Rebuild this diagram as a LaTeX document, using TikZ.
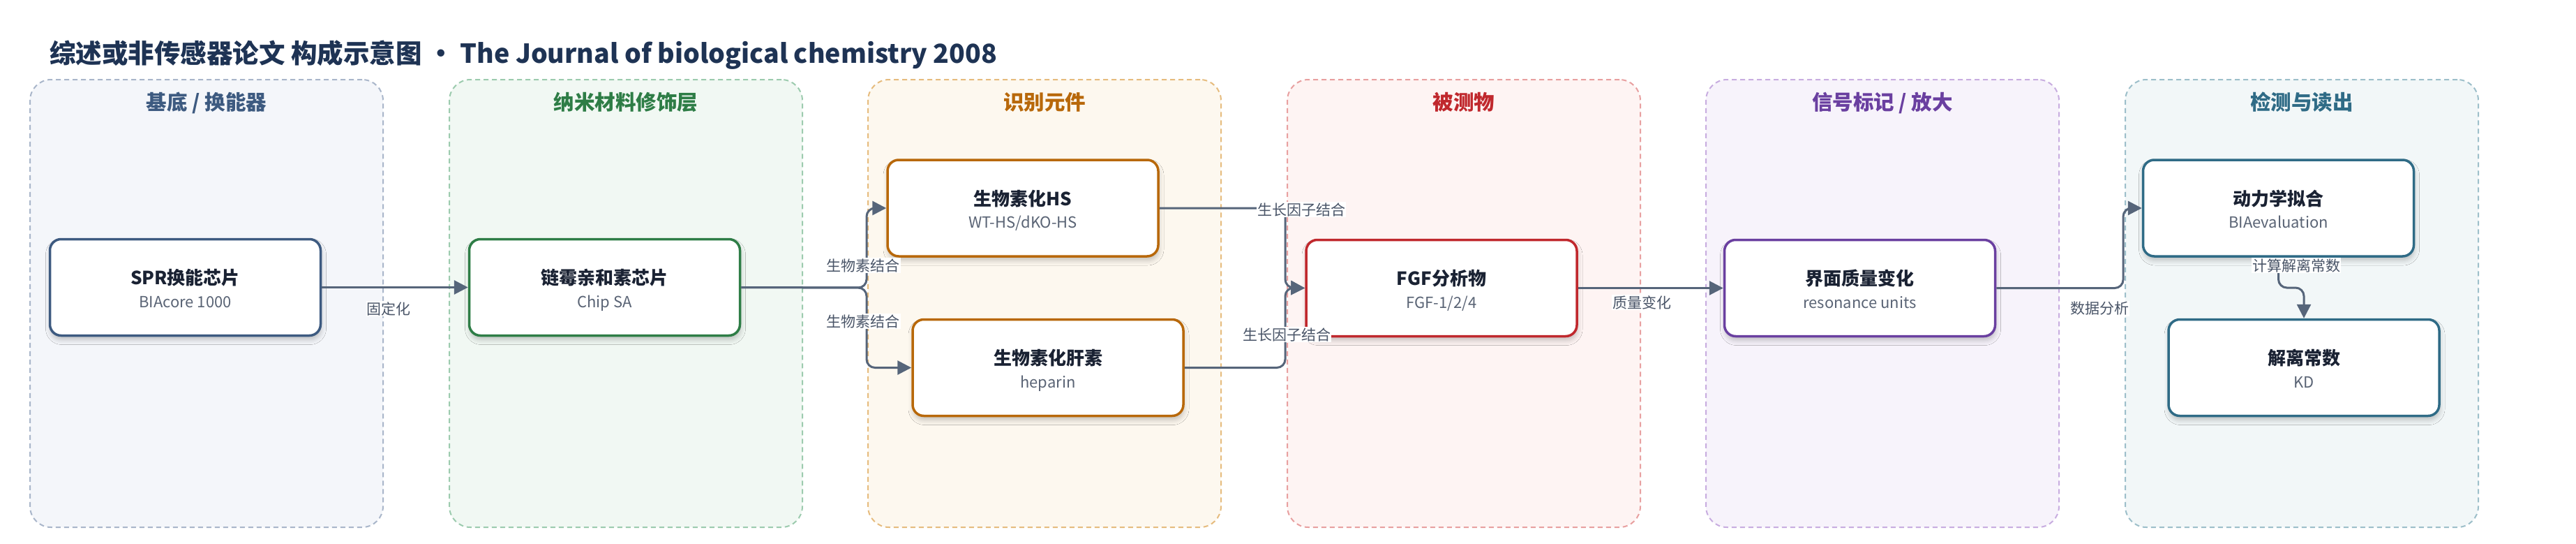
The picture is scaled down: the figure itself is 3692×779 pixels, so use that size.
\documentclass[tikz,border=0pt]{standalone}
\usepackage{fontspec}
\setmainfont{Noto Sans CJK SC}
\usetikzlibrary{arrows.meta,calc,shadows.blur}
\definecolor{titlecol}{HTML}{1E3354}
\definecolor{maincol}{HTML}{1A2233}
\definecolor{subcol}{HTML}{5A6475}
\definecolor{lblcol}{HTML}{4A5568}
\definecolor{edgecol}{HTML}{56657A}
\definecolor{pfA}{HTML}{F4F6FA}\definecolor{pdA}{HTML}{A9B6CA}\definecolor{ptA}{HTML}{3D5A80}
\definecolor{pfB}{HTML}{F1F8F3}\definecolor{pdB}{HTML}{9CCBAE}\definecolor{ptB}{HTML}{2E7D46}
\definecolor{pfC}{HTML}{FDF8EF}\definecolor{pdC}{HTML}{E6BC7E}\definecolor{ptC}{HTML}{B8680A}
\definecolor{pfD}{HTML}{FEF4F3}\definecolor{pdD}{HTML}{E8A0A0}\definecolor{ptD}{HTML}{C0282D}
\definecolor{pfE}{HTML}{F7F3FB}\definecolor{pdE}{HTML}{C8ADE0}\definecolor{ptE}{HTML}{6A3FA0}
\definecolor{pfF}{HTML}{F2F7F8}\definecolor{pdF}{HTML}{9DBFCA}\definecolor{ptF}{HTML}{2F6B86}
\newcommand\mkbox[6]{%
  \node[nodebox, draw=#4] (#1) at (#2,#3) {};
  \node[maintxt] (#1m) at ($(#1.center)+(0,-4)$) {#5};
  \node[subtxt] (#1s) at ($(#1.center)+(0,28.5)$) {#6};}
\newcommand\mkpanel[7]{%
  \node[panel, fill=#4, draw=#5] (#1) at (#2,#3) {};
  \node[ptitle, text=#6] (#1t) at ($(#1.north)+(0,44)$) {#7};}
\begin{document}
\begin{tikzpicture}[x=1pt,y=-1pt,
  panel/.style={dash pattern=on 7pt off 5pt, line width=2pt, rounded corners=30pt,
    minimum width=506pt, minimum height=641pt, inner sep=0pt},
  ptitle/.style={font=\fontsize{29.5}{32}\selectfont\bfseries, inner sep=0pt, anchor=base},
  nodebox/.style={fill=white, line width=3.5pt, rounded corners=16pt,
    minimum width=388pt, minimum height=138pt, inner sep=0pt,
    blur shadow={shadow xshift=1pt, shadow yshift=-6pt, shadow blur radius=7pt, shadow opacity=22}},
  maintxt/.style={font=\fontsize{26}{30}\selectfont\bfseries, text=maincol, inner sep=0pt, anchor=base},
  subtxt/.style={font=\fontsize{22}{26}\selectfont, text=subcol, inner sep=0pt, anchor=base},
  edgelbl/.style={fill=white, inner sep=1pt, font=\fontsize{21}{24}\selectfont, text=lblcol},
  edge/.style={draw=edgecol, line width=3pt, rounded corners=12pt,
    -{Triangle[length=20pt,width=20pt]}}]
\fill[white] (0,0) rectangle (3692,779);
\useasboundingbox (0,0) rectangle (3692,779);
% title
\node[anchor=base west, inner sep=0pt, text=titlecol, font=\fontsize{37.5}{41}\selectfont\bfseries]
  (title) at (71,90) {综述或非传感器论文 构成示意图 • The Journal of biological chemistry 2008};
% panels
\mkpanel{p1}{296}{434.5}{pfA}{pdA}{ptA}{基底 / 换能器}
\mkpanel{p2}{897}{434.5}{pfB}{pdB}{ptB}{纳米材料修饰层}
\mkpanel{p3}{1497}{434.5}{pfC}{pdC}{ptC}{识别元件}
\mkpanel{p4}{2098}{434.5}{pfD}{pdD}{ptD}{被测物}
\mkpanel{p5}{2698}{434.5}{pfE}{pdE}{ptE}{信号标记 / 放大}
\mkpanel{p6}{3299}{434.5}{pfF}{pdF}{ptF}{检测与读出}
% junction coordinates
\coordinate (j1) at (1242,412);
\coordinate (j2) at (1842,412);
\coordinate (j3) at (3043,412);
\coordinate (j4) at (3284,412);
% boxes
\mkbox{spr}{265.5}{411.5}{ptA}{SPR换能芯片}{BIAcore 1000}
\mkbox{lm}{866.5}{411.5}{ptB}{链霉亲和素芯片}{Chip SA}
\mkbox{hs}{1466}{298}{ptC}{生物素化HS}{WT-HS/dKO-HS}
\mkbox{hep}{1502}{526.5}{ptC}{生物素化肝素}{heparin}
\mkbox{fgf}{2066}{412.5}{ptD}{FGF分析物}{FGF-1/2/4}
\mkbox{jm}{2665.5}{412.5}{ptE}{界面质量变化}{resonance units}
\mkbox{dyn}{3265.5}{298}{ptF}{动力学拟合}{BIAevaluation}
\mkbox{kd}{3302}{526.5}{ptF}{解离常数}{KD}
% edges
\draw[edge] (spr.east) -- (lm.west);
\draw[edge] (lm.east) -- (j1) |- (hs.west);
\draw[edge] (lm.east) -- (j1) |- (hep.west);
\draw[edge] (hs.east) -| (j2) -- (fgf.west);
\draw[edge] (hep.east) -| (j2) -- (fgf.west);
\draw[edge] (fgf.east) -- (jm.west);
\draw[edge] (jm.east) -| (j3 |- dyn.west) -- (dyn.west);
\draw[edge] (dyn.south) -- (dyn.south |- j4) -| (kd.north);
% edge labels
\node[edgelbl] (l1) at (557,442) {固定化};
\node[edgelbl] (l2) at (1237,380) {生物素结合};
\node[edgelbl] (l3) at (1237,460) {生物素结合};
\node[edgelbl] (l4) at (1865,300) {生长因子结合};
\node[edgelbl] (l5) at (1844,479) {生长因子结合};
\node[edgelbl] (l6) at (2353,433) {质量变化};
\node[edgelbl] (l7) at (3009,442) {数据分析};
\node[edgelbl] (l8) at (3291,380) {计算解离常数};
\end{tikzpicture}
\end{document}
